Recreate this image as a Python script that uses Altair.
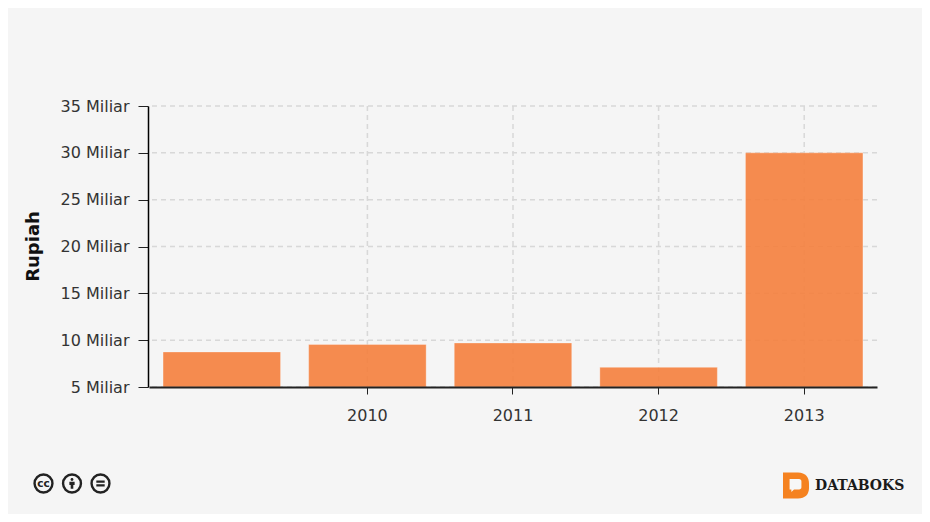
import altair as alt
import pandas as pd

years = ["", "2010", "2011", "2012", "2013"]
values = [8.74e9, 9.54e9, 9.7e9, 7.1e9, 30.0e9]
y_ticks = [5e9, 10e9, 15e9, 20e9, 25e9, 30e9, 35e9]
x_labels = ["2010", "2011", "2012", "2013"]
baseline = 5e9
BG = "#f5f5f5"
FONT = "DejaVu Sans"

df = pd.DataFrame({"year": years, "value": values})
x_scale = alt.Scale(domain=years, paddingInner=0.193, paddingOuter=0.0965)
y_scale = alt.Scale(domain=[5e9, 35e9], zero=False, nice=False)
grid_style = dict(color="#d8d8d8", strokeDash=[5, 4], strokeWidth=1.5)

x_axis = alt.Axis(values=x_labels, labelAngle=0, labelFont=FONT, labelFontSize=16,
                  labelColor="#333333", labelPadding=13, tickSize=7, tickColor="#222222",
                  domainColor="#222222", domainWidth=2, grid=False, zindex=1)
y_axis = alt.Axis(values=y_ticks, labelExpr="(datum.value / 1e9) + ' Miliar'",
                  labelFont=FONT, labelFontSize=16, labelColor="#333333", labelPadding=9,
                  tickSize=10, tickColor="#222222", domainColor="#000000", domainWidth=1.5,
                  grid=False, titleFont=FONT, titleFontSize=18, titleFontWeight="bold",
                  titleColor="#111111", titleX=-106, titleY=140, offset=1, zindex=1)
X = alt.X("year:N", sort=years, title=None, scale=x_scale, axis=x_axis)
Y = alt.Y("value:Q", title="Rupiah", scale=y_scale, axis=y_axis)

h_grid = alt.Chart(pd.DataFrame({"value": y_ticks})).mark_rule(**grid_style).encode(y=Y)
v_grid = alt.Chart(pd.DataFrame({"year": x_labels})).mark_rule(**grid_style).encode(x=X)

bars = alt.Chart(df).mark_bar(
    color="#F57F3D", fillOpacity=0.9, stroke="#ffffff", strokeOpacity=0.3, strokeWidth=1
).encode(x=X, y=Y, y2=alt.datum(baseline))

ORIGIN_X, ORIGIN_Y = 149, 106
one = alt.Data(values=[{"k": 1}])


def icon(cx, cy, path, size, color):
    return alt.Chart(one).mark_point(shape=path, filled=True, opacity=1, fill=color,
                                     strokeWidth=0).encode(
        x=alt.value(cx - ORIGIN_X), y=alt.value(cy - ORIGIN_Y), size=alt.value(size))


def ring(cx, cy):
    return alt.Chart(one).mark_point(shape="circle", filled=False, opacity=1, stroke="#222222",
                                     strokeWidth=2.4).encode(
        x=alt.value(cx - ORIGIN_X), y=alt.value(cy - ORIGIN_Y), size=alt.value(320))


def label(cx, cy, text, font, size, color, align="center"):
    return alt.Chart(one).mark_text(text=text, font=font, fontSize=size, fontWeight="bold",
                                    color=color, align=align, baseline="middle").encode(
        x=alt.value(cx - ORIGIN_X), y=alt.value(cy - ORIGIN_Y))


PERSON = ("M-0.28,-0.75 A0.28,0.28 0 1,1 0.28,-0.75 A0.28,0.28 0 1,1 -0.28,-0.75 Z "
          "M-0.5,-0.35 H0.5 V0.3 H0.25 V1 H-0.25 V0.3 H-0.5 Z")
EQUALS = "M-1,-0.7 H1 V-0.15 H-1 Z M-1,0.15 H1 V0.7 H-1 Z"
D_SHAPE = ("M-1,-1 H0.15 C0.75,-1 1,-0.6 1,-0.15 V0.2 C1,0.7 0.7,1 0.15,1 H-0.7 V1 H-1 Z")
BUBBLE = "M-1,-1 H0.6 C0.85,-1 1,-0.85 1,-0.6 V0.4 C1,0.65 0.85,0.75 0.6,0.75 H-0.25 L-0.7,1.2 V0.75 H-1 Z"

chart = alt.layer(
    h_grid, v_grid, bars,
    ring(43.5, 483.5), label(43.5, 483.5, "cc", FONT, 10.5, "#222222"),
    ring(72, 483.5), icon(72, 483.5, PERSON, 110, "#222222"),
    ring(100.5, 483.5), icon(100.5, 483.5, EQUALS, 70, "#222222"),
    icon(796, 485.5, D_SHAPE, 676, "#F58220"),
    icon(795.5, 485, BUBBLE, 140, "#f7f7f7"),
    label(815, 485.5, "DATABOKS", "DejaVu Serif", 14, "#1a1a1a", align="left"),
).properties(
    width=728, height=281,
    background=BG,
    padding={"left": 141, "top": 98, "right": 45, "bottom": 127},
    autosize=alt.AutoSizeParams(type="none"),
).configure_view(stroke=None)

chart.save("out.html", embed_options={"renderer": "svg", "actions": False})
